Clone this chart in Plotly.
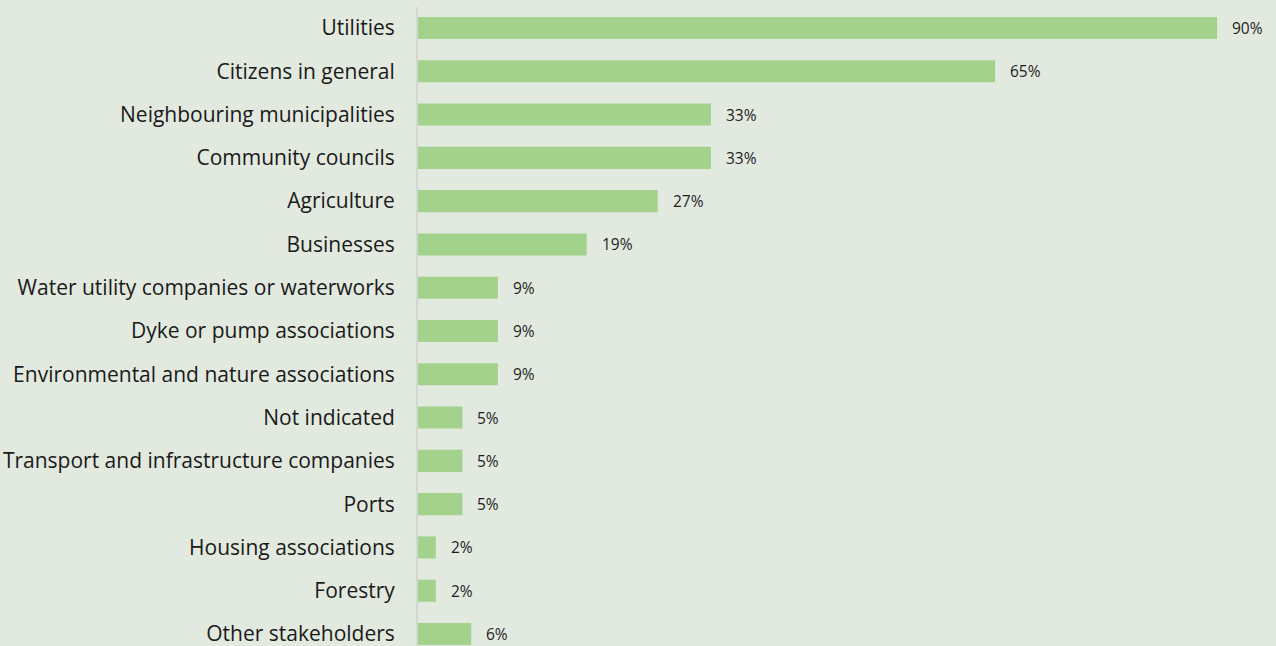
import plotly.graph_objects as go

# Share of responses per stakeholder group (%)
categories = [
    "Utilities",
    "Citizens in general",
    "Neighbouring municipalities",
    "Community councils",
    "Agriculture",
    "Businesses",
    "Water utility companies or waterworks",
    "Dyke or pump associations",
    "Environmental and nature associations",
    "Not indicated",
    "Transport and infrastructure companies",
    "Ports",
    "Housing associations",
    "Forestry",
    "Other stakeholders",
]
values = [90, 65, 33, 33, 27, 19, 9, 9, 9, 5, 5, 5, 2, 2, 6]
value_labels = [f"{v}%" for v in values]

BG = "#E2E9DF"
BAR = "#A3D28C"
FONT = "'Open Sans', 'Noto Sans', sans-serif"

fig = go.Figure(
    go.Bar(
        x=values,
        y=categories,
        orientation="h",
        marker=dict(color=BAR, line=dict(width=0)),
        hoverinfo="x+y",
    )
)

for cat, val, lab in zip(categories, values, value_labels):
    fig.add_annotation(
        x=val, y=cat, text=lab, showarrow=False,
        xanchor="left", yanchor="middle", xshift=13,
        font=dict(family=FONT, size=15.5, color="#1E1E1E"),
    )

fig.update_layout(
    width=1276,
    height=646,
    margin=dict(l=418, r=0, t=7, b=0),
    paper_bgcolor=BG,
    plot_bgcolor=BG,
    bargap=0.49,
    showlegend=False,
    xaxis=dict(
        range=[0, 96.64],
        showgrid=False,
        zeroline=False,
        showticklabels=False,
        showline=False,
        fixedrange=True,
    ),
    yaxis=dict(
        type="category",
        categoryorder="array",
        categoryarray=categories,
        range=[14.277, -0.485],
        showgrid=False,
        zeroline=False,
        showline=True,
        linecolor="#D3D6D2",
        linewidth=2,
        ticks="",
        ticklabelstandoff=17,
        tickfont=dict(family=FONT, size=21, color="#1A1A1A"),
        fixedrange=True,
    ),
)

fig.write_html("out.html")
